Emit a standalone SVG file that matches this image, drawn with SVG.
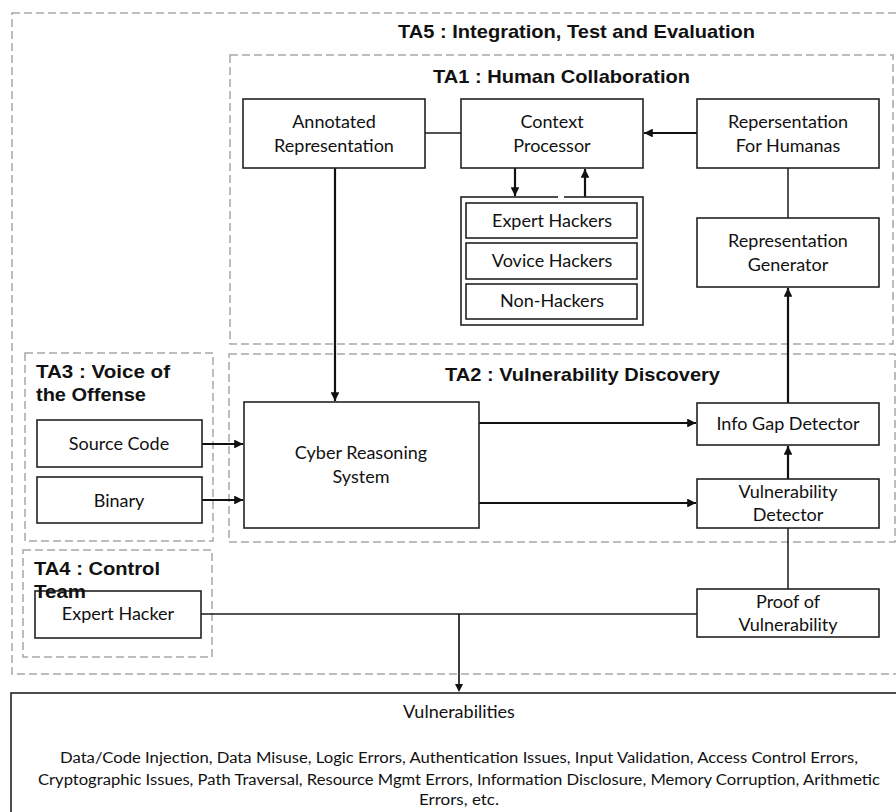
<svg xmlns="http://www.w3.org/2000/svg" width="896" height="812" viewBox="0 0 896 812">
  <defs>
    <style>
      .area { fill: none; stroke: #a8a8a8; stroke-width: 1.5; stroke-dasharray: 8 4; }
      .box { fill: #ffffff; stroke: #222222; stroke-width: 1.6; }
      .lbl { font-family: Lato, "Open Sans", sans-serif; font-size: 18px; fill: #111111; text-anchor: middle; }
      .small { font-size: 15.5px; }
      .ttl { font-family: "Liberation Sans", Arial, sans-serif; font-weight: bold; font-size: 19px; fill: #111111; }
      .arrow { fill: none; stroke: #111111; stroke-width: 2.2; marker-end: url(#head); }
      .plain { fill: none; stroke: #1a1a1a; stroke-width: 1.5; }
      .wire { fill: none; stroke: #1a1a1a; stroke-width: 1.7; }
    </style>
    <marker id="head" viewBox="0 0 10 10" refX="10" refY="5" markerWidth="4" markerHeight="4" orient="auto" markerUnits="strokeWidth">
      <path d="M0,0 L10,5 L0,10 Z" fill="#111111"/>
    </marker>
  </defs>

  <rect width="896" height="812" fill="#ffffff"/>

  <!-- technical areas (dashed regions) -->
  <g id="ta5">
    <rect class="area" x="12" y="13" width="900" height="661"/>
    <text class="ttl" x="398" y="38" textLength="357" lengthAdjust="spacingAndGlyphs">TA5 : Integration, Test and Evaluation</text>
  </g>
  <g id="ta1">
    <rect class="area" x="230" y="55" width="663" height="289"/>
    <text class="ttl" x="433" y="83" textLength="257" lengthAdjust="spacingAndGlyphs">TA1 : Human Collaboration</text>
  </g>
  <g id="ta2">
    <rect class="area" x="229" y="354" width="666" height="188"/>
    <text class="ttl" x="445" y="381" textLength="275" lengthAdjust="spacingAndGlyphs">TA2 : Vulnerability Discovery</text>
  </g>
  <g id="ta3">
    <rect class="area" x="25" y="353" width="188" height="188"/>
    <text class="ttl" x="36" y="378" textLength="134" lengthAdjust="spacingAndGlyphs">TA3 : Voice of</text>
    <text class="ttl" x="36" y="401" textLength="110" lengthAdjust="spacingAndGlyphs">the Offense</text>
  </g>
  <g id="ta4">
    <rect class="area" x="23" y="550" width="189" height="107"/>
    <text class="ttl" x="34" y="575" textLength="126" lengthAdjust="spacingAndGlyphs">TA4 : Control</text>
  </g>

  <!-- connectors -->
  <g id="connectors">
    <line class="plain" x1="425" y1="133" x2="461" y2="133"/>
    <line class="arrow" x1="697" y1="133" x2="644" y2="133"/>
    <line class="arrow" x1="515" y1="168" x2="515" y2="196"/>
    <line class="arrow" x1="585" y1="197" x2="585" y2="169"/>
    <line class="plain" x1="788" y1="168" x2="788" y2="218"/>
    <line class="arrow" x1="788" y1="403" x2="788" y2="288"/>
    <line class="arrow" x1="335" y1="168" x2="335" y2="401"/>
    <line class="arrow" x1="202" y1="444" x2="243" y2="444"/>
    <line class="arrow" x1="202" y1="500" x2="243" y2="500"/>
    <line class="arrow" x1="479" y1="423" x2="696" y2="423"/>
    <line class="arrow" x1="479" y1="503" x2="696" y2="503"/>
    <line class="arrow" x1="788" y1="479" x2="788" y2="446"/>
    <line class="plain" x1="788" y1="528" x2="788" y2="589"/>
    <line class="wire" x1="201" y1="614" x2="697" y2="614"/>
    <line class="wire" x1="459" y1="614" x2="459" y2="686"/>
    <path d="M455,684 L459,692 L463,684 Z" fill="#111111"/>
  </g>

  <!-- TA1 nodes -->
  <g id="annotated-representation">
    <rect class="box" x="243" y="99" width="182" height="69"/>
    <text class="lbl" x="334" y="128">Annotated</text>
    <text class="lbl" x="334" y="152">Representation</text>
  </g>
  <g id="context-processor">
    <rect class="box" x="461" y="99" width="182" height="69"/>
    <text class="lbl" x="552" y="128">Context</text>
    <text class="lbl" x="552" y="152">Processor</text>
  </g>
  <g id="representation-for-humans">
    <rect class="box" x="697" y="99" width="182" height="69"/>
    <text class="lbl" x="788" y="128">Repersentation</text>
    <text class="lbl" x="788" y="152">For Humanas</text>
  </g>
  <g id="representation-generator">
    <rect class="box" x="697" y="218" width="182" height="69"/>
    <text class="lbl" x="788" y="247">Representation</text>
    <text class="lbl" x="788" y="271">Generator</text>
  </g>
  <g id="human-groups">
    <rect class="box" x="461" y="197" width="182" height="128"/>
    <rect x="558" y="195" width="6" height="4" fill="#ffffff"/>
    <g id="expert-hackers">
      <rect class="box" x="466" y="203" width="171" height="35"/>
      <text class="lbl" x="552" y="227">Expert Hackers</text>
    </g>
    <g id="vovice-hackers">
      <rect class="box" x="466" y="243" width="171" height="36"/>
      <text class="lbl" x="552" y="267">Vovice Hackers</text>
    </g>
    <g id="non-hackers">
      <rect class="box" x="466" y="284" width="171" height="35"/>
      <text class="lbl" x="552" y="307">Non-Hackers</text>
    </g>
  </g>

  <!-- TA3 nodes -->
  <g id="source-code">
    <rect class="box" x="37" y="420" width="165" height="47"/>
    <text class="lbl" x="119" y="450">Source Code</text>
  </g>
  <g id="binary">
    <rect class="box" x="37" y="477" width="165" height="46"/>
    <text class="lbl" x="119" y="507">Binary</text>
  </g>

  <!-- TA2 nodes -->
  <g id="cyber-reasoning-system">
    <rect class="box" x="244" y="402" width="235" height="126"/>
    <text class="lbl" x="361" y="459">Cyber Reasoning</text>
    <text class="lbl" x="361" y="483">System</text>
  </g>
  <g id="info-gap-detector">
    <rect class="box" x="697" y="403" width="182" height="42"/>
    <text class="lbl" x="788" y="430">Info Gap Detector</text>
  </g>
  <g id="vulnerability-detector">
    <rect class="box" x="697" y="479" width="182" height="49"/>
    <text class="lbl" x="788" y="498">Vulnerability</text>
    <text class="lbl" x="788" y="521">Detector</text>
  </g>

  <!-- TA4 and proof -->
  <g id="expert-hacker">
    <rect class="box" x="35" y="591" width="166" height="47"/>
    <text class="lbl" x="118" y="620">Expert Hacker</text>
  </g>
  <text id="ta4-team" class="ttl" x="34" y="598" textLength="52" lengthAdjust="spacingAndGlyphs">Team</text>
  <g id="proof-of-vulnerability">
    <rect class="box" x="697" y="589" width="182" height="48"/>
    <text class="lbl" x="788" y="608">Proof of</text>
    <text class="lbl" x="788" y="631">Vulnerability</text>
  </g>

  <!-- outcome -->
  <g id="vulnerabilities">
    <rect class="box" x="11" y="693" width="900" height="140" stroke-width="2.2"/>
    <text class="lbl" x="459" y="718">Vulnerabilities</text>
    <text class="lbl small" x="459" y="763" textLength="798" lengthAdjust="spacingAndGlyphs">Data/Code Injection, Data Misuse, Logic Errors, Authentication Issues, Input Validation, Access Control Errors,</text>
    <text class="lbl small" x="459" y="785" textLength="842" lengthAdjust="spacingAndGlyphs">Cryptographic Issues, Path Traversal, Resource Mgmt Errors, Information Disclosure, Memory Corruption, Arithmetic</text>
    <text class="lbl small" x="459" y="805" textLength="80" lengthAdjust="spacingAndGlyphs">Errors, etc.</text>
  </g>
</svg>
